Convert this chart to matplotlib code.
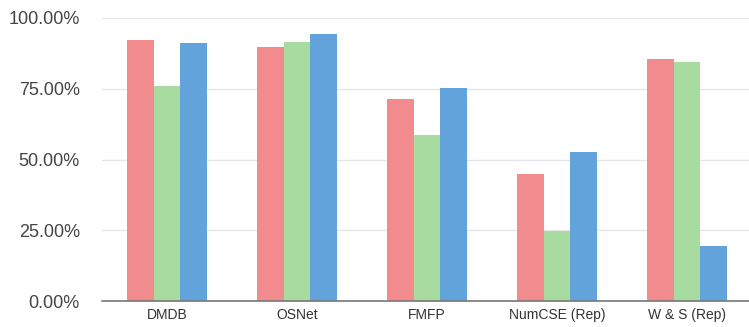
import matplotlib

matplotlib.use("Agg")
import matplotlib.pyplot as plt
import numpy as np
from matplotlib.ticker import FuncFormatter

categories = ["DMDB", "OSNet", "FMFP", "NumCSE (Rep)", "W & S (Rep)"]
series_red = [92.2, 89.8, 71.4, 45.0, 85.5]
series_green = [76.0, 91.5, 58.7, 24.7, 84.5]
series_blue = [91.2, 94.3, 75.3, 52.7, 19.4]
y_ticks = [0, 25, 50, 75, 100]

colors = ["#f28b8e", "#a8dba0", "#62a3dc"]

plt.rcParams["font.family"] = ["Liberation Sans", "DejaVu Sans"]

fig = plt.figure(figsize=(7.49, 3.27), dpi=100)
ax = fig.add_axes([102 / 749, 26 / 327, 650 / 749, 283 / 327])

x = np.arange(len(categories))
width = 0.205
for offset, values, color in zip((-1, 0, 1), (series_red, series_green, series_blue), colors):
    ax.bar(x + offset * width, values, width=width, color=color, zorder=2)

ax.set_xlim(-0.5, len(categories) - 0.5)
ax.set_ylim(0, 100)
ax.set_yticks(y_ticks)
ax.yaxis.set_major_formatter(FuncFormatter(lambda v, _: f"{v:.2f}%"))
ax.set_xticks(x)
ax.set_xticklabels(categories, fontsize=10, color="#333333")
ax.tick_params(axis="y", labelsize=13, colors="#444444", length=0, pad=16)
ax.tick_params(axis="x", length=0, pad=5)
ax.grid(axis="y", color="#e6e6e6", linewidth=1, zorder=0)

for side in ("top", "right", "left"):
    ax.spines[side].set_visible(False)
ax.spines["bottom"].set_color("#777777")
ax.spines["bottom"].set_linewidth(1.2)

fig.savefig("out.png", dpi=100)
